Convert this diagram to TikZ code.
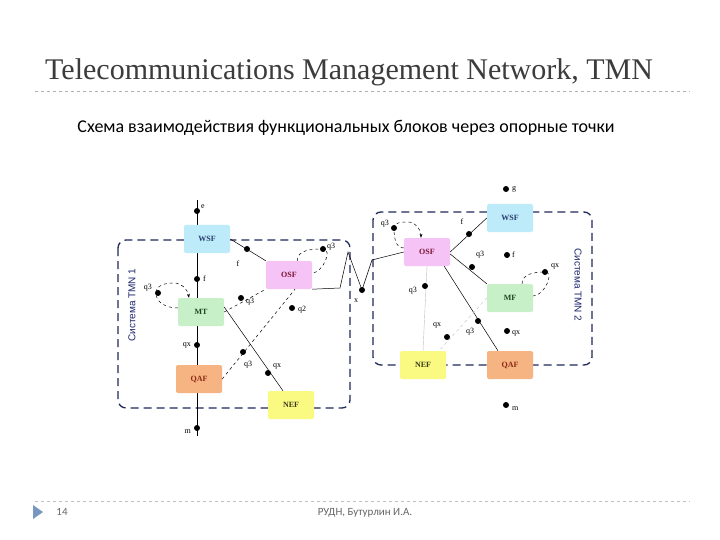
\documentclass[tikz,border=0pt]{standalone}
\usepackage{fontspec}
\setmainfont{Liberation Serif}
\newfontfamily\calfnt{Carlito}
\newfontfamily\sansfnt{Liberation Sans}
\usetikzlibrary{arrows.meta}
\definecolor{tri}{RGB}{120,150,190}
\definecolor{ttl}{RGB}{60,60,60}
\definecolor{sysc}{RGB}{30,40,90}
\definecolor{syst}{RGB}{30,40,110}
\definecolor{wsfc}{RGB}{190,235,250}\definecolor{wsft}{RGB}{40,60,110}
\definecolor{mtc}{RGB}{200,240,200}\definecolor{mtt}{RGB}{30,70,30}
\definecolor{qafc}{RGB}{245,180,130}\definecolor{qaft}{RGB}{140,40,20}
\definecolor{osfc}{RGB}{245,195,245}\definecolor{osft}{RGB}{120,20,50}
\definecolor{nefc}{RGB}{250,250,130}\definecolor{neft}{RGB}{60,60,20}
\begin{document}
\begin{tikzpicture}[x=1pt,y=-1pt,
 blk/.style={rounded corners=2pt,minimum width=46pt,minimum height=28pt,inner sep=0pt,font=\bfseries\fontsize{8}{9}\selectfont},
 wsfb/.style={blk,fill=wsfc,text=wsft},
 mtb/.style={blk,fill=mtc,text=mtt},
 qafb/.style={blk,fill=qafc,text=qaft},
 osfb/.style={blk,fill=osfc,text=osft},
 nefb/.style={blk,fill=nefc,text=neft},
 dot/.style={circle,fill=black,inner sep=0pt,minimum size=6pt},
 lb/.style={font=\fontsize{8}{9}\selectfont,inner sep=1pt},
 ln/.style={black,line width=0.5pt},
 sys/.style={line width=1.3pt,draw=sysc,dash pattern=on 8pt off 5pt,rounded corners=8pt},
 syslb/.style={font=\sansfnt\fontsize{10}{12}\selectfont,text=syst},
 foot/.style={font=\calfnt\fontsize{11}{13}\selectfont,text=gray!80!black}]
\useasboundingbox (0,0) rectangle (720,540);
\fill[white] (0,0) rectangle (720,540);
% header / footer
\node[anchor=base west,font=\fontsize{30}{32}\selectfont,text=ttl,inner sep=0pt] (title) at (45,80) {Telecommunications Management Network, TMN};
\draw[gray!60,dashed] (35,91) -- (690,91);
\node[font=\calfnt\fontsize{18}{20}\selectfont] (sub) at (346,128) {Схема взаимодействия функциональных блоков через опорные точки};
\draw[gray!50,dashed] (35,501) -- (690,501);
\fill[tri] (33,505) -- (43,512) -- (33,519) -- cycle;
\node[foot] (pg) at (62,512) {14};
\node[foot] (au) at (365,513) {РУДН, Бутурлин И.А.};
% system boxes
\draw[sys] (118,240) rectangle (350,408);
\draw[sys] (373,212) rectangle (592,365);
\node[rotate=90,syslb] (s1) at (132,305) {Система TMN 1};
\node[rotate=-90,syslb] (s2) at (578,285) {Система TMN 2};
% left system
\coordinate (ltop) at (197,200);
\coordinate (lbot) at (197,436);
\draw[ln] (ltop) -- (lbot);
\node[wsfb] (wsf) at (207,239) {WSF};
\node[mtb] (mt) at (201,312) {MT};
\node[qafb] (qaf) at (199,379) {QAF};
\node[osfb] (osf) at (289,275) {OSF};
\node[nefb] (nef) at (291,405) {NEF};
\node[dot] (de) at (197,211) {}; \node[lb,right] (le) at (200,207) {e};
\node[dot] (df) at (197,279) {}; \node[lb,right] (lf) at (202,279) {f};
\node[dot] (dqx) at (197,345) {}; \node[lb,left] (lqx) at (192,345) {qx};
\node[dot] (dm) at (197,428) {}; \node[lb,left] (lm) at (192,432) {m};
\draw[ln] (wsf.east) -- (osf.north west);
\node[dot] (dwo) at (247,249) {}; \node[lb] (lwo) at (238,264) {f};
\node[dot] (dol) at (323,249) {}; \node[lb,right] (lol) at (326,247) {q3};
\draw[ln,dashed] ([xshift=-15pt]osf.north east) to[out=90,in=180] (dol.center) to[out=0,in=0] ([yshift=2pt]osf.east);
\node[dot] (dml) at (158,293) {}; \node[lb,left] (lml) at (153,288) {q3};
\draw[ln,dashed,-{Stealth[length=4pt]}] ([yshift=4pt]mt.west) to[out=180,in=270] ([xshift=-2pt]dml.center) to[out=90,in=180] (174,283) to[out=0,in=100] ([xshift=-12pt]mt.north);
\draw[ln,dashed] (mt.east) -- (osf.south west);
\node[dot] (dmo) at (241,298) {}; \node[lb,right] (lmo) at (245,302) {q3};
\node[dot] (dq2) at (292,308) {}; \node[lb,right] (lq2) at (297,310) {q2};
\draw[ln] ([yshift=5pt]mt.east) -- ([xshift=-8pt]nef.north);
\node[dot] (dmn) at (268,373) {}; \node[lb,right] (lmn) at (272,366) {qx};
\draw[ln,dashed] (qaf.east) -- ([xshift=6pt]osf.south);
\node[dot] (dqo) at (243,352) {}; \node[lb] (lqo) at (248,365) {q3};
% link between systems
\node[dot] (dx) at (362,290) {}; \node[lb] (lx) at (356,301) {x};
\node[osfb] (osf2) at (427,252) {OSF};
\draw[ln] (osf.south east) -- (340,288) -- (348,252) -- (dx.center) -- (372,260) -- (osf2.west);
% right system
\node[wsfb] (wsf2) at (510,218) {WSF};
\node[mtb] (mf) at (510,298) {MF};
\node[nefb] (nef2) at (423,365) {NEF};
\node[qafb] (qaf2) at (510,365) {QAF};
\node[dot] (dg) at (506,189) {}; \node[lb,right] (lg) at (511,189) {g};
\draw[ln] (wsf2.west) -- (osf2.east);
\node[dot] (dwo2) at (469,234) {}; \node[lb] (lwo2) at (462,222) {f};
\node[dot] (df2) at (507,255) {}; \node[lb,right] (lf2) at (511,255) {f};
\draw[ln] ([yshift=-2pt]osf2.east) -- (mf.north west);
\node[dot] (dom2) at (472,267) {}; \node[lb] (lom2) at (480,255) {q3};
\node[dot] (dol2) at (394,228) {}; \node[lb,left] (lol2) at (390,224) {q3};
\draw[ln,dashed,-{Stealth[length=4pt]}] ([yshift=4pt]osf2.west) to[out=180,in=270] (dol2.center) to[out=90,in=180] (408,222) to[out=0,in=90] ([xshift=-6pt]osf2.north);
\node[dot] (dml2) at (545,272) {}; \node[lb,right] (lml2) at (550,266) {qx};
\draw[ln,dashed] ([xshift=12pt]mf.north) to[out=90,in=180] (dml2.center) to[out=0,in=0] ([yshift=2pt]mf.east);
\draw[gray!50] (osf2.south) -- (nef2.north);
\node[dot] (don2) at (425,286) {}; \node[lb,left] (lon2) at (418,291) {q3};
\draw[ln] ([xshift=-6pt]osf2.south east) -- ([xshift=-12pt]qaf2.north);
\node[dot] (doq2) at (478,321) {}; \node[lb] (loq2) at (470,332) {q3};
\draw[gray!50,dashed] (mf.west) -- ([xshift=16pt]nef2.north);
\node[dot] (dmn2) at (447,337) {}; \node[lb] (lmn2) at (437,325) {qx};
\node[dot] (dqx2) at (507,331) {}; \node[lb,right] (lqx2) at (511,333) {qx};
\node[dot] (dm2) at (506,405) {}; \node[lb,right] (lm2) at (511,409) {m};
\end{tikzpicture}
\end{document}
